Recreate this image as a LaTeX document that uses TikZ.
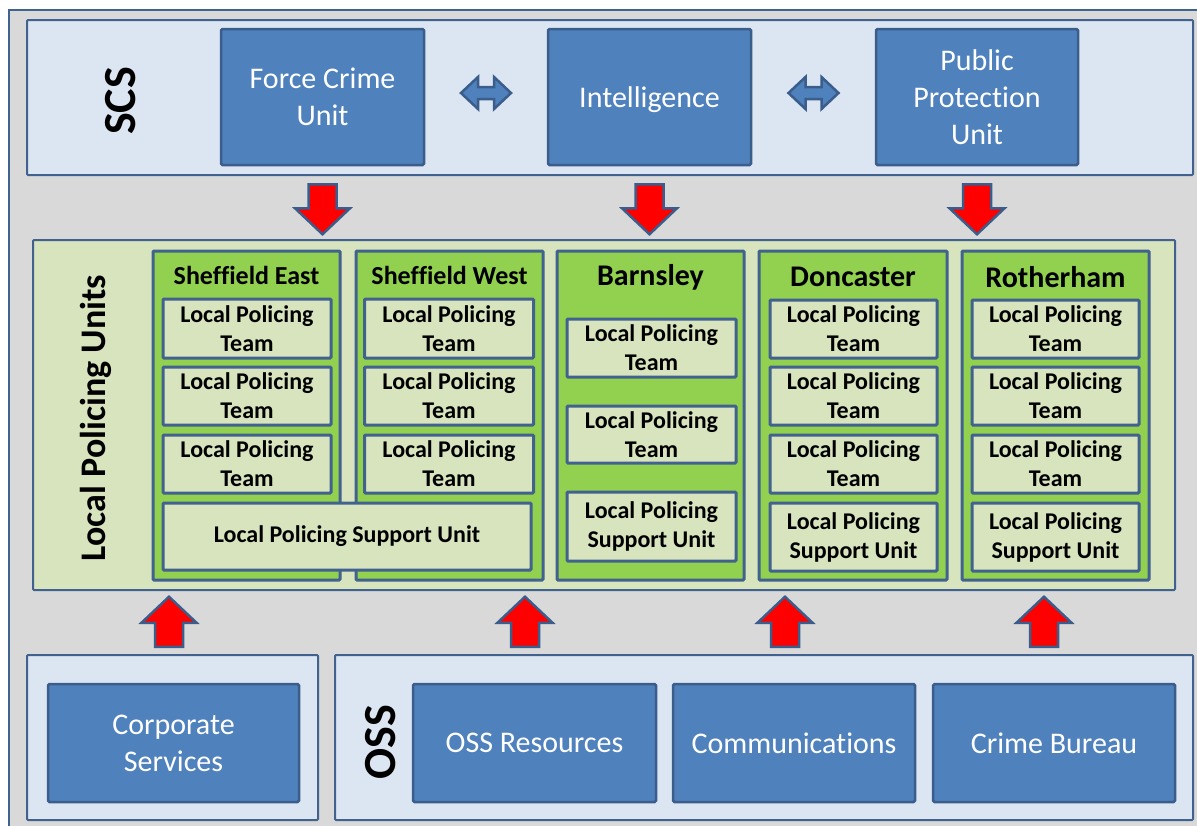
\documentclass[tikz,border=0pt]{standalone}
\usepackage{fontspec}
\setmainfont{Carlito}[Ligatures=NoCommon]
\usetikzlibrary{calc}
\definecolor{frameblue}{HTML}{41628E}
\definecolor{boxblue}{HTML}{4F81BD}
\definecolor{boxedge}{HTML}{3A5D8B}
\definecolor{paleblue}{HTML}{DCE6F2}
\definecolor{palegreen}{HTML}{D7E4BD}
\definecolor{lgreen}{HTML}{92D050}
\definecolor{bggray}{HTML}{D9D9D9}
\tikzset{
  panel/.style={draw=frameblue, line width=2pt, rounded corners=1pt, inner sep=0pt, fill=paleblue},
  bluebox/.style={draw=boxedge, fill=boxblue, line width=2.5pt, rounded corners=1.5pt, inner sep=0pt,
    text=white, align=center, font=\fontsize{30}{37}\selectfont},
  unitbox/.style={draw=frameblue, fill=lgreen, line width=3pt, rounded corners=1pt, inner sep=0pt},
  teambox/.style={draw=frameblue, fill=palegreen, line width=3pt, rounded corners=1pt, inner sep=0pt,
    align=center, font=\bfseries\fontsize{24}{29}\selectfont},
  unittitle/.style={font=\bfseries\fontsize{30}{30}\selectfont, inner sep=0pt},
  smalltitle/.style={font=\bfseries\fontsize{26}{26}\selectfont, inner sep=0pt},
  sidelabel/.style={rotate=90, inner sep=0pt},
  redarrow/.style={draw=boxedge, fill=red, line width=2.5pt, line join=miter},
  dblarrow/.style={draw=boxedge, fill=boxblue, line width=2.5pt, line join=miter},
  downarr/.pic={\draw[redarrow] (-14,0) -- (14,0) -- (14,24) -- (27.5,24) -- (0,50) -- (-27.5,24) -- (-14,24) -- cycle;},
  dblarr/.pic={\draw[dblarrow] (-25,0) -- (-8,-16) -- (-8,-6) -- (8,-6) -- (8,-16) -- (25,0) -- (8,16) -- (8,6) -- (-8,6) -- (-8,16) -- cycle;}
}
\begin{document}
\begin{tikzpicture}[x=1pt,y=-1pt]
\useasboundingbox (0,0) rectangle (1197,825);
\clip (0,0) rectangle (1197,825);
\node[draw=frameblue, fill=bggray, line width=2pt, inner sep=0pt, minimum width=1210, minimum height=840] (frame) at (614,430) {};
% SCS
\node[panel, minimum width=1166, minimum height=155] (scs) at (610,97.5) {};
\node[sidelabel, font=\bfseries\fontsize{46}{46}\selectfont] (scslbl) at (121,101) {SCS};
\node[bluebox, minimum width=203, minimum height=136] (fcu) at (322.5,97) {Force Crime\\Unit};
\node[bluebox, minimum width=203, minimum height=136, text depth=0pt] (intel) at (649.5,97) {Intelligence};
\node[bluebox, minimum width=202, minimum height=136] (ppu) at (977,97) {Public\\Protection\\Unit};
\pic at ($(fcu.east)!0.5!(intel.west)+(0,-4)$) {dblarr};
\pic at ($(intel.east)!0.5!(ppu.west)+(0,-4)$) {dblarr};
% LPU
\node[panel, fill=palegreen, minimum width=1142, minimum height=350] (lpu) at (604,415) {};
\node[sidelabel, font=\bfseries\fontsize{36}{36}\selectfont] (lpulbl) at (96,418) {Local Policing Units};
\node[unitbox, minimum width=187, minimum height=329] (she) at (246.5,415.5) {};
\node[unitbox, minimum width=187, minimum height=329] (shw) at (449.5,415.5) {};
\node[unitbox, minimum width=187, minimum height=329] (bar) at (650.5,415.5) {};
\node[unitbox, minimum width=188, minimum height=329] (don) at (853,415.5) {};
\node[unitbox, minimum width=187, minimum height=329] (rot) at (1055.5,415.5) {};
\node[smalltitle] (sheT) at (246.5,275) {Sheffield East};
\node[smalltitle] (shwT) at (449.5,275) {Sheffield West};
\node[unittitle] (barT) at (650.5,277) {Barnsley};
\node[unittitle] (donT) at (853,277) {Doncaster};
\node[unittitle] (rotT) at (1055.5,277) {Rotherham};
% Sheffield East teams
\node[teambox, minimum width=168, minimum height=59] (she1) at (247,328.5) {Local Policing\\Team};
\node[teambox, minimum width=168, minimum height=58] (she2) at (247,396) {Local Policing\\Team};
\node[teambox, minimum width=168, minimum height=58] (she3) at (247,464) {Local Policing\\Team};
% Sheffield West teams
\node[teambox, minimum width=169, minimum height=59] (shw1) at (449,328.5) {Local Policing\\Team};
\node[teambox, minimum width=169, minimum height=58] (shw2) at (449,396) {Local Policing\\Team};
\node[teambox, minimum width=169, minimum height=58] (shw3) at (449,464) {Local Policing\\Team};
\node[teambox, minimum width=368, minimum height=67] (shsu) at (347,536.5) {Local Policing Support Unit};
% Barnsley
\node[teambox, minimum width=169, minimum height=58] (bar1) at (651.5,348) {Local Policing\\Team};
\node[teambox, minimum width=169, minimum height=57] (bar2) at (651.5,434.5) {Local Policing\\Team};
\node[teambox, minimum width=169, minimum height=69] (barsu) at (651.5,526.5) {Local Policing\\Support Unit};
% Doncaster
\node[teambox, minimum width=167, minimum height=58] (don1) at (853.5,329) {Local Policing\\Team};
\node[teambox, minimum width=167, minimum height=58] (don2) at (853.5,396) {Local Policing\\Team};
\node[teambox, minimum width=167, minimum height=58] (don3) at (853.5,464) {Local Policing\\Team};
\node[teambox, minimum width=167, minimum height=68] (donsu) at (853.5,537) {Local Policing\\Support Unit};
% Rotherham
\node[teambox, minimum width=167, minimum height=58] (rot1) at (1055.5,329) {Local Policing\\Team};
\node[teambox, minimum width=167, minimum height=58] (rot2) at (1055.5,396) {Local Policing\\Team};
\node[teambox, minimum width=167, minimum height=58] (rot3) at (1055.5,464) {Local Policing\\Team};
\node[teambox, minimum width=167, minimum height=68] (rotsu) at (1055.5,537) {Local Policing\\Support Unit};
% bottom
\node[panel, minimum width=291, minimum height=165] (corpP) at (172.5,737.5) {};
\node[bluebox, minimum width=251, minimum height=118] (corp) at (173.5,743) {Corporate\\Services};
\node[panel, minimum width=858, minimum height=165] (ossP) at (764,737.5) {};
\node[sidelabel, font=\bfseries\fontsize{46}{46}\selectfont] (osslbl) at (381,742) {OSS};
\node[bluebox, minimum width=243, minimum height=118] (ossres) at (534.5,743) {OSS Resources};
\node[bluebox, minimum width=242, minimum height=118] (comm) at (794,743) {Communications};
\node[bluebox, minimum width=242, minimum height=118] (crime) at (1054,743) {Crime Bureau};
% arrows down
\pic at ($(fcu.south)+(0,18)$) {downarr};
\pic at ($(intel.south)+(0,18)$) {downarr};
\pic at ($(ppu.south)+(0,18)$) {downarr};
% arrows up
\pic[rotate=180] at ($(corp.north)+(-4.5,-36)$) {downarr};
\pic[rotate=180] at ($(ossres.north)+(-9.5,-36)$) {downarr};
\pic[rotate=180] at ($(comm.north)+(-9,-36)$) {downarr};
\pic[rotate=180] at ($(crime.north)+(-10,-36)$) {downarr};
\end{tikzpicture}
\end{document}
